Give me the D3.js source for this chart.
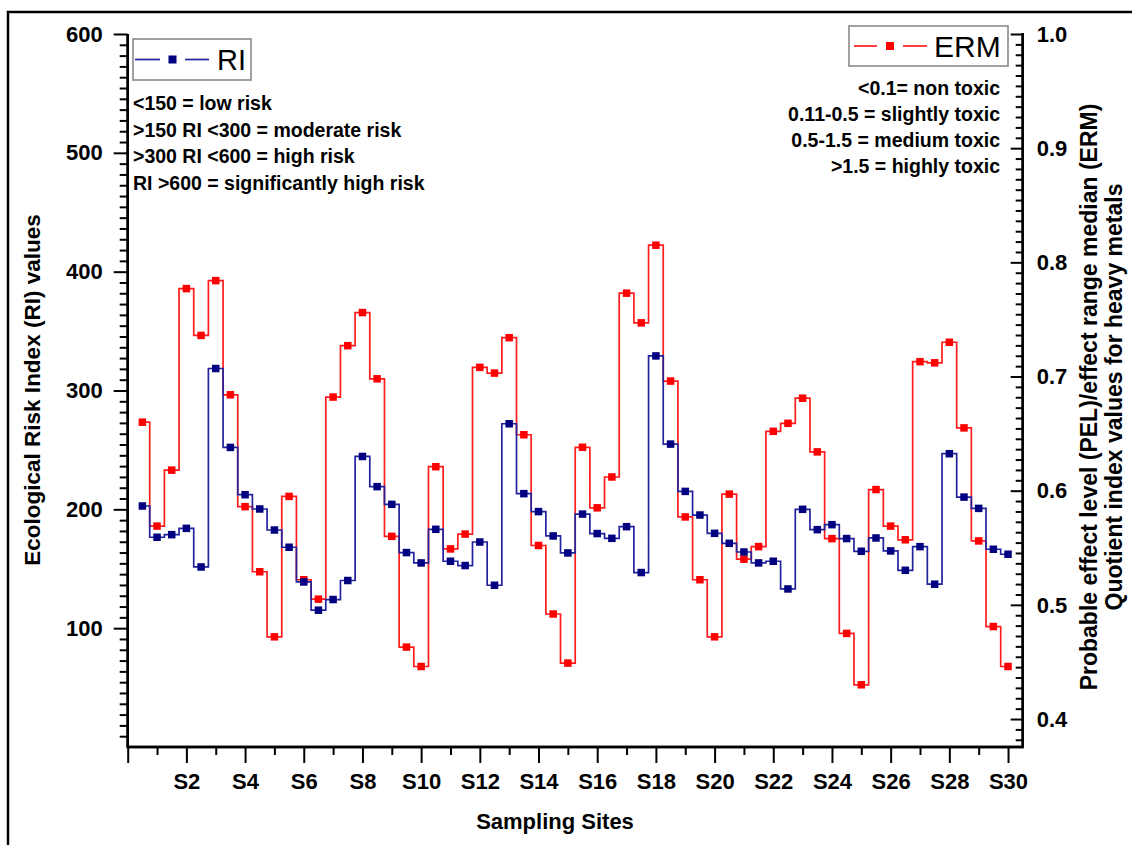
<!DOCTYPE html>
<html>
<head>
<meta charset="utf-8">
<script src="https://cdn.jsdelivr.net/npm/d3@7/dist/d3.min.js"></script>
<style>
  html, body { margin: 0; padding: 0; background: #fff; }
  svg { display: block; font-family: "Liberation Sans", Arial, sans-serif; }
</style>
</head>
<body>
<svg id="chart" width="1132" height="845"></svg>
<script>
// Ecological Risk Index (RI) per sample, two samples per sampling site
const riValues = [202.8,176.5,178.7,184,151.5,318.5,252.1,212.3,200.3,182.6,
                  168.1,138.9,115.1,124.1,140.1,244.5,219.1,204.2,163.6,154.9,
                  183.2,156.3,152.7,172.5,136.1,272,213.2,198.1,177.6,163.3,
                  196,179.6,175.6,185.4,146.8,329.1,254.9,215.1,195.2,179.8,
                  171.4,164.1,154.9,156.3,133,200,182.9,187.1,175.4,164.7,
                  175.9,165,148.7,168.6,137,246.8,210.3,200.8,166.4,162.2];

// PEL/ERM quotient index per sample
const ermValues = [0.660,0.569,0.618,0.777,0.736,0.784,0.684,0.586,0.529,0.472,
                   0.595,0.522,0.505,0.682,0.727,0.756,0.698,0.560,0.463,0.446,
                   0.621,0.549,0.562,0.708,0.703,0.734,0.649,0.552,0.492,0.449,
                   0.638,0.585,0.612,0.773,0.747,0.815,0.696,0.577,0.522,0.472,
                   0.597,0.540,0.551,0.652,0.659,0.681,0.634,0.558,0.475,0.430,
                   0.601,0.569,0.557,0.713,0.712,0.730,0.655,0.556,0.481,0.446];

const siteLabels = ["S2","S4","S6","S8","S10","S12","S14","S16","S18","S20","S22","S24","S26","S28","S30"];
const riTicks = [100, 200, 300, 400, 500, 600];
const ermTicks = [0.4, 0.5, 0.6, 0.7, 0.8, 0.9, 1.0];

const riNotes = ["<150 = low risk", ">150 RI <300 = moderate risk", ">300 RI <600 = high risk", "RI >600 = significantly high risk"];
const ermNotes = ["<0.1= non toxic", "0.11-0.5 = slightly toxic", "0.5-1.5 = medium toxic", ">1.5 = highly toxic"];

const svg = d3.select("#chart");
const plotL = 127.7, plotR = 1022.7, plotT = 34, plotB = 747;

const x = d3.scaleLinear().domain([0, 30.5]).range([plotL, plotR]);
const yRI = d3.scaleLinear().domain([0, 600]).range([plotB, plotT]);
const yERM = d3.scaleLinear().domain([0.3755, 1.0]).range([plotB, plotT]);

// each site holds two samples: positions 0.5, 1.0, 1.5 ...
const samplePos = i => (i + 1) / 2;

svg.append("rect").attr("width", 1132).attr("height", 845).attr("fill", "#fff");
// outer frame
svg.append("rect").attr("x", 8).attr("y", 12).attr("width", 1150).attr("height", 860)
  .attr("fill", "none").attr("stroke", "#000").attr("stroke-width", 2.5);

const BOLD = "bold";

// ---- axes ----
function minorTicks(majors, start, end) {
  const out = [];
  const step = majors[1] - majors[0];
  for (let k = -1; k < majors.length; k++) {
    const base = k < 0 ? majors[0] - step : majors[k];
    for (let j = 1; j <= 10; j++) {
      const v = base + step * j / 11;
      if (v > start && v < end) out.push(v);
    }
  }
  return out;
}

// left axis (RI)
const gL = svg.append("g").attr("transform", `translate(${plotL},0)`);
gL.call(d3.axisLeft(yRI).tickValues(riTicks).tickSize(14).tickSizeOuter(0).tickPadding(11).tickFormat(d3.format("d")));
gL.append("g").call(d3.axisLeft(yRI).tickValues(minorTicks(riTicks, 0.5, 600)).tickSize(8).tickSizeOuter(0).tickFormat(""));
gL.selectAll(".domain").attr("stroke-width", 2.4).attr("d", `M0,${plotB}V${yRI(600)}`);
gL.selectAll(".tick line").attr("stroke-width", 2);
gL.selectAll("g.tick text").attr("font-size", 22).attr("font-weight", BOLD).attr("fill", "#000");

// right axis (ERM), ticks pointing inward
const gR = svg.append("g").attr("transform", `translate(${plotR},0)`);
gR.call(d3.axisLeft(yERM).tickValues(ermTicks).tickSize(12).tickSizeOuter(0).tickFormat(""));
gR.append("g").call(d3.axisLeft(yERM).tickValues(minorTicks(ermTicks, 0.3756, 1.0)).tickSize(7).tickSizeOuter(0).tickFormat(""));
gR.selectAll(".domain").attr("stroke-width", 2.4).attr("d", `M0,${plotB}V${plotT - 1}`);
gR.selectAll(".tick line").attr("stroke-width", 2);
gR.selectAll("text.ermLabel").data(ermTicks).join("text")
  .attr("class", "ermLabel")
  .attr("x", 14).attr("y", d => yERM(d)).attr("dy", "0.35em")
  .attr("fill", "#000").attr("text-anchor", "start")
  .attr("font-size", 22).attr("font-weight", BOLD)
  .text(d => d3.format(".1f")(d));

// bottom axis (sampling sites)
const siteMajor = d3.range(0, 31, 2);
const siteMinor = d3.range(1, 30, 2);
const gB = svg.append("g").attr("transform", `translate(0,${plotB})`);
gB.call(d3.axisBottom(x).tickValues(siteMajor).tickSize(16).tickSizeOuter(0).tickPadding(10)
  .tickFormat(d => d === 0 ? "" : siteLabels[d / 2 - 1]));
gB.append("g").call(d3.axisBottom(x).tickValues(siteMinor).tickSize(8).tickSizeOuter(0).tickFormat(""));
gB.selectAll(".domain").attr("stroke-width", 2.4).attr("d", `M${plotL - 1},0H${plotR + 1}`);
gB.selectAll(".tick line").attr("stroke-width", 2);
gB.selectAll("g.tick text").attr("font-size", 22).attr("font-weight", BOLD).attr("fill", "#000");

// ---- axis titles ----
svg.append("text").attr("transform", `translate(40,390) rotate(-90)`)
  .attr("text-anchor", "middle").attr("font-size", 22.5).attr("font-weight", BOLD)
  .text("Ecological Risk Index (RI) values");
svg.append("text").attr("x", 555).attr("y", 829)
  .attr("text-anchor", "middle").attr("font-size", 22).attr("font-weight", BOLD)
  .text("Sampling Sites");
svg.append("text").attr("transform", `translate(1097,397) rotate(-90)`)
  .attr("text-anchor", "middle").attr("font-size", 23).attr("font-weight", BOLD)
  .text("Probable effect level (PEL)/effect range median (ERM)");
svg.append("text").attr("transform", `translate(1122,397) rotate(-90)`)
  .attr("text-anchor", "middle").attr("font-size", 23).attr("font-weight", BOLD)
  .text("Quotient index values for heavy metals");

// ---- series ----
function drawSeries(values, yScale, lineColor, markColor) {
  const line = d3.line()
    .x((d, i) => x(samplePos(i)))
    .y(d => yScale(d))
    .curve(d3.curveStep);
  svg.append("path").datum(values)
    .attr("d", line).attr("fill", "none")
    .attr("stroke", lineColor).attr("stroke-width", 1.7);
  svg.append("g").selectAll("rect").data(values).join("rect")
    .attr("x", (d, i) => x(samplePos(i)) - 3.75)
    .attr("y", d => yScale(d) - 3.75)
    .attr("width", 7.5).attr("height", 7.5)
    .attr("fill", markColor);
}
drawSeries(ermValues, yERM, "#ff1c1c", "#ff0000");
drawSeries(riValues, yRI, "#23239e", "#000080");

// ---- legends ----
function legend(bx, by, bw, bh, lineColor, markColor, label, fs, segs, tx) {
  const g = svg.append("g");
  g.append("rect").attr("x", bx).attr("y", by).attr("width", bw).attr("height", bh)
    .attr("fill", "#fff").attr("stroke", "#8a8a8a").attr("stroke-width", 1.6);
  const ly = by + bh / 2;
  segs.forEach(s => g.append("line").attr("x1", s[0]).attr("x2", s[1]).attr("y1", ly).attr("y2", ly)
    .attr("stroke", lineColor).attr("stroke-width", 1.7));
  const mx = (segs[0][1] + segs[1][0]) / 2;
  g.append("rect").attr("x", mx - 4).attr("y", ly - 4).attr("width", 8).attr("height", 8).attr("fill", markColor);
  g.append("text").attr("x", tx).attr("y", ly + 0.36 * fs).attr("font-size", fs).text(label);
}
legend(133, 39, 118, 41, "#23239e", "#000080", "RI", 29, [[135, 160], [185, 209]], 217);
legend(849, 26, 159, 40, "#ff1c1c", "#ff0000", "ERM", 30, [[854, 877], [903, 927]], 934);

// ---- classification notes ----
svg.append("g").selectAll("text").data(riNotes).join("text")
  .attr("x", 133).attr("y", (d, i) => 110 + i * 26.5)
  .attr("font-size", 19.5).attr("font-weight", BOLD).text(d => d);
svg.append("g").selectAll("text").data(ermNotes).join("text")
  .attr("x", 1000).attr("y", (d, i) => 95 + i * 26)
  .attr("text-anchor", "end")
  .attr("font-size", 19.5).attr("font-weight", BOLD).text(d => d);
</script>
</body>
</html>
